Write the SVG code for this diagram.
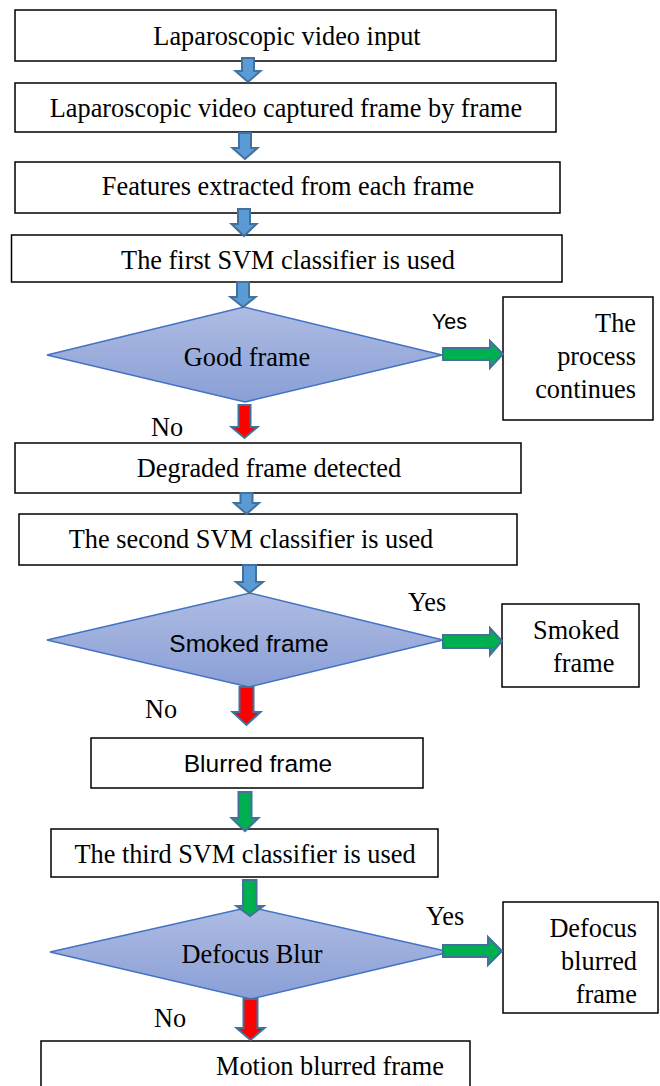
<svg xmlns="http://www.w3.org/2000/svg" width="660" height="1086" viewBox="0 0 660 1086">
<defs>
<linearGradient id="dg" x1="0" y1="0" x2="0" y2="1">
<stop offset="0" stop-color="#aebce3"/>
<stop offset="1" stop-color="#8a9fd6"/>
</linearGradient>
</defs>
<style>
.box{fill:#fff;stroke:#000;stroke-width:1.5}
.dia{fill:url(#dg);stroke:#4472c4;stroke-width:1.5}
.t{font-family:"Liberation Serif","Times New Roman",serif;font-size:26.3px;fill:#000}
.s{font-family:"Liberation Sans",Arial,sans-serif;font-size:24.5px;fill:#000}
.c{text-anchor:middle}
.r{text-anchor:end}
.ab{fill:#5b9bd5;stroke:#41719c;stroke-width:2}
.ar{fill:#ff0000;stroke:#41719c;stroke-width:2}
.ag{fill:#00b050;stroke:#41719c;stroke-width:2}
</style>
<rect width="660" height="1086" fill="#fff"/>
<g id="n1"><rect class="box" x="15" y="10" width="541" height="51"/><text class="t c" x="287" y="45">Laparoscopic video input</text></g>
<g id="n2"><rect class="box" x="15" y="83" width="541" height="49"/><text class="t c" x="286" y="117">Laparoscopic video captured frame by frame</text></g>
<g id="n3"><rect class="box" x="15" y="162" width="545" height="51"/><text class="t c" x="288" y="195">Features extracted from each frame</text></g>
<g id="n4"><rect class="box" x="11.5" y="235" width="550.5" height="47"/><text class="t c" x="288" y="269">The first SVM classifier is used</text></g>
<g id="d1"><polygon class="dia" points="244,307 442,355 245,402 47,355"/><text class="t c" x="247" y="366">Good frame</text></g>
<g id="n5"><rect class="box" x="503" y="297" width="150" height="123"/><text class="t r" x="636" y="332">The</text><text class="t r" x="636" y="365">process</text><text class="t r" x="636" y="398">continues</text></g>
<g id="n6"><rect class="box" x="15" y="443" width="506" height="50"/><text class="t c" x="269" y="477">Degraded frame detected</text></g>
<g id="n7"><rect class="box" x="19" y="514" width="498" height="51"/><text class="t c" x="251" y="548">The second SVM classifier is used</text></g>
<g id="d2"><polygon class="dia" points="250,593 443,640 249,687 47,640"/><text class="s c" x="249" y="652">Smoked frame</text></g>
<g id="n8"><rect class="box" x="502" y="604" width="137" height="83"/><text class="t" x="533" y="639">Smoked</text><text class="t" x="553" y="672">frame</text></g>
<g id="n9"><rect class="box" x="91" y="738" width="332" height="50"/><text class="s c" x="258" y="772">Blurred frame</text></g>
<g id="n10"><rect class="box" x="51" y="829" width="387" height="48"/><text class="t c" x="245" y="863">The third SVM classifier is used</text></g>
<g id="d3"><polygon class="dia" points="250,907 450,952 251,999 50,952"/><text class="t c" x="252" y="963">Defocus Blur</text></g>
<g id="n11"><rect class="box" x="503" y="902" width="155" height="111"/><text class="t r" x="637" y="937">Defocus</text><text class="t r" x="637" y="970">blurred</text><text class="t r" x="637" y="1003">frame</text></g>
<g id="n12"><rect class="box" x="41" y="1041" width="429" height="60"/><text class="t" x="216" y="1075">Motion blurred frame</text></g>
<g id="connectors">
<polygon class="ab" points="242,58 254,58 254,71 260.5,71 248,82 235.5,71 242,71"/>
<polygon class="ab" points="239,133 251,133 251,148 257.5,148 245,159 232.5,148 239,148"/>
<polygon class="ab" points="238,209 250,209 250,224 256.5,224 244,236 231.5,224 238,224"/>
<polygon class="ab" points="237,282 249,282 249,297 255.5,297 243,307 230.5,297 237,297"/>
<polygon class="ar" points="238.5,405 250.5,405 250.5,427 257.5,427 244.5,438 231.5,427 238.5,427"/>
<polygon class="ab" points="240.5,493 252.5,493 252.5,503 259,503 246.5,514 234,503 240.5,503"/>
<polygon class="ab" points="243,565 256,565 256,582 263,582 249.5,593 236,582 243,582"/>
<polygon class="ar" points="239.5,687 253.5,687 253.5,712 260.5,712 246.5,725 232.5,712 239.5,712"/>
<polygon class="ag" points="238.5,792 251.5,792 251.5,818 258.5,818 245,831 231.5,818 238.5,818"/>
<polygon class="ag" points="243,880 256.5,880 256.5,906 263.5,906 250,916 236.5,906 243,906"/>
<polygon class="ar" points="243.5,999 257.5,999 257.5,1028 264.5,1028 250.5,1040 236.5,1028 243.5,1028"/>
<polygon class="ag" points="443,348 490,348 490,341 503,354 490,368 490,360 443,360"/>
<polygon class="ag" points="443,635 490,635 490,628 502,641 490,655 490,648 443,648"/>
<polygon class="ag" points="443,945 488,945 488,937 502,951 488,965 488,957 443,957"/>
<text class="s" x="432" y="329" style="font-size:21.5px">Yes</text>
<text class="t" x="151" y="436">No</text>
<text class="t" x="408" y="611">Yes</text>
<text class="t" x="145" y="718">No</text>
<text class="t" x="426" y="925">Yes</text>
<text class="t" x="154" y="1027">No</text>
</g>
</svg>
